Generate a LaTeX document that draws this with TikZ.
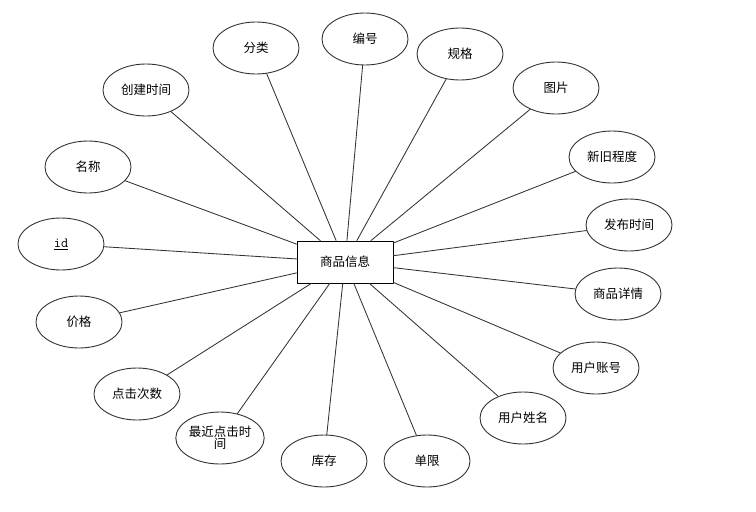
\documentclass[tikz,border=0pt]{standalone}
\usepackage{fontspec}
\newfontfamily\cjk{Noto Sans CJK SC}
\usetikzlibrary{shapes.geometric}
\begin{document}
\begin{tikzpicture}[x=1pt,y=-1pt,line cap=round,line join=round,
  entity/.style={draw=black,line width=0.9pt,minimum width=96pt,minimum height=42pt,inner sep=0pt,font=\cjk\fontsize{12.5}{14}\selectfont},
  attr/.style={ellipse,draw=black!80,line width=0.9pt,minimum width=86pt,minimum height=52pt,inner sep=0pt,align=center,font=\cjk\fontsize{12.5}{14}\selectfont},
  link/.style={draw=black!80,line width=0.85pt}]
  \useasboundingbox (0,0) rectangle (756,512);
  \node[entity] (info) at (345,262) {商品信息};
  % attributes round the entity
  \foreach \n/\x/\y/\t in {cat/256/48/分类, num/365/39/编号, ctime/146/90/创建时间,
     name/88/167/名称, id/61/244/{\ttfamily\fontsize{14}{16}\selectfont\underline{id}}, price/79/322/价格,
     clicks/137/394/点击次数, lasttime/220/438/{最近点击时\\[-2pt]间}, stock/324/461/库存,
     limit/427/461/单限, uname/523/418/用户姓名, uacc/596/368/用户账号,
     detail/618/294/商品详情, ptime/629/225/发布时间, cond/612/157/新旧程度,
     pic/556/88/图片, spec/460/54/规格}
  {
   \node[attr] (\n) at (\x,\y) {\t};
   \draw[link] (info) -- (\n);
  }
 \end{tikzpicture}
\end{document}
